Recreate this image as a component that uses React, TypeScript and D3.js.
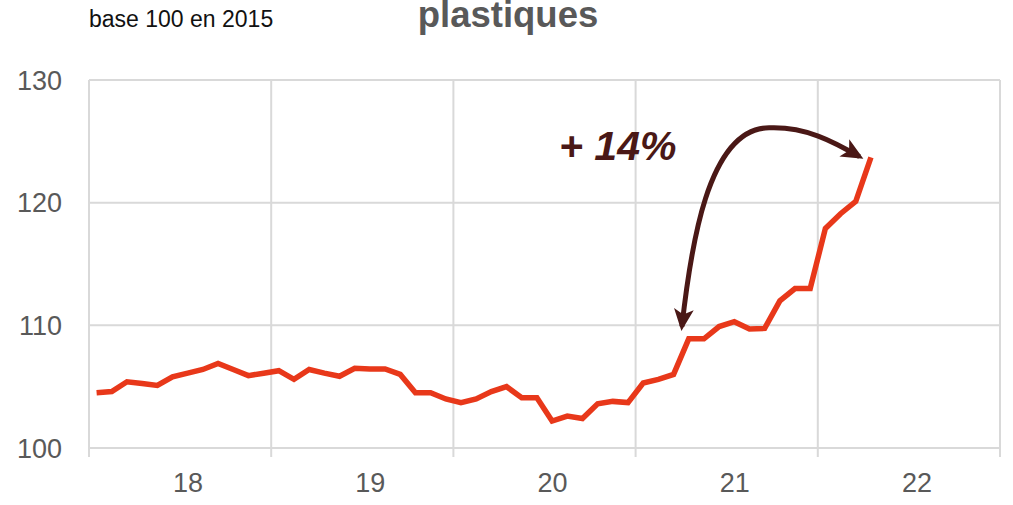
import React from "react";
import * as d3 from "d3";

// Monthly index, Jan 2018 -> Apr 2022, base 100 in 2015
const values: number[] = [
  104.5, 104.6, 105.4, 105.25, 105.1, 105.8, 106.1, 106.4, 106.9, 106.4, 105.9, 106.1,
  106.3, 105.6, 106.4, 106.1, 105.85, 106.5, 106.45, 106.45, 106.0, 104.5, 104.5, 104.0,
  103.7, 104.0, 104.6, 105.0, 104.1, 104.1, 102.2, 102.6, 102.4, 103.6, 103.8, 103.7,
  105.3, 105.6, 106.0, 108.9, 108.9, 109.9, 110.3, 109.7, 109.75, 112.0, 113.0, 113.0,
  117.9, 119.1, 120.1, 123.7,
];
const yearLabels: string[] = ["18", "19", "20", "21", "22"];
const yTicks: number[] = [100, 110, 120, 130];
const titleText = "plastiques";
const subtitleText = "base 100 en 2015";
const annotationText = "+ 14%";
// arrow annotation in data units: [monthIndex, value]
const arrowStart: [number, number] = [39.05, 109.9];
const arrowC1: [number, number] = [39.6, 116.0];
const arrowC2: [number, number] = [40.7, 126.2];
const arrowMid: [number, number] = [44.85, 126.1];
const arrowC3: [number, number] = [47.2, 126.2];
const arrowC4: [number, number] = [49.0, 125.0];
const arrowEnd: [number, number] = [50.75, 123.75];

export default function App() {
  const W = 1013;
  const H = 505;
  const left = 89;
  const right = 1000;
  const top = 80;
  const bottom = 448;
  const nMonths = yearLabels.length * 12;

  const x = d3.scaleLinear().domain([0, nMonths]).range([left, right]);
  const y = d3.scaleLinear().domain([100, 130]).range([bottom, top]);

  const line = d3
    .line<number>()
    .x((_, i) => x(i + 0.5))
    .y((d) => y(d));

  const P = (p: [number, number]) => `${x(p[0])},${y(p[1])}`;
  const arrowPath = `M${P(arrowStart)} C${P(arrowC1)} ${P(arrowC2)} ${P(arrowMid)} C${P(arrowC3)} ${P(arrowC4)} ${P(arrowEnd)}`;

  const gridColor = "#d9d9d9";
  const textGray = "#595959";
  const arrowColor = "#4a1816";
  const font = "'Liberation Sans', Arial, sans-serif";

  const vLines = d3.range(0, yearLabels.length + 1).map((k) => x(k * 12));

  return (
    <svg
      width={W}
      height={H}
      style={{ position: "absolute", left: 0, top: 0, background: "#fff" }}
      fontFamily={font}
    >
      <defs>
        <marker
          id="ah"
          viewBox="0 0 10 10"
          refX="8"
          refY="5"
          markerWidth="22"
          markerHeight="22"
          markerUnits="userSpaceOnUse"
          orient="auto-start-reverse"
        >
          <path d="M0,0.5 L10,5 L0,9.5 L2.5,5 Z" fill={arrowColor} />
        </marker>
      </defs>

      {/* horizontal gridlines */}
      {yTicks.map((t) => (
        <line key={"h" + t} x1={left} x2={right} y1={y(t)} y2={y(t)} stroke={gridColor} strokeWidth={2} />
      ))}
      {/* vertical gridlines with tick extension */}
      {vLines.map((vx, i) => (
        <line key={"v" + i} x1={vx} x2={vx} y1={top} y2={bottom + 9} stroke={gridColor} strokeWidth={2} />
      ))}

      {/* y labels */}
      {yTicks.map((t) => (
        <text
          key={"yl" + t}
          x={left - 27}
          y={y(t)}
          dy="0.36em"
          textAnchor="end"
          fontSize={27}
          fill={textGray}
        >
          {t}
        </text>
      ))}

      {/* x labels */}
      {yearLabels.map((lab, k) => (
        <text
          key={"xl" + lab}
          x={x(k * 12 + 6) + 8}
          y={492}
          textAnchor="middle"
          fontSize={27}
          fill={textGray}
        >
          {lab}
        </text>
      ))}

      {/* data line */}
      <path
        d={line(values) || ""}
        fill="none"
        stroke="#e8381a"
        strokeWidth={5.5}
        strokeLinejoin="miter"
        strokeLinecap="butt"
      />

      {/* arrow */}
      <path
        d={arrowPath}
        fill="none"
        stroke={arrowColor}
        strokeWidth={5}
        markerStart="url(#ah)"
        markerEnd="url(#ah)"
      />
      <text
        x={559}
        y={160}
        fontSize={41}
        fontWeight="bold"
        fontStyle="italic"
        fill={arrowColor}
      >
        {annotationText}
      </text>

      {/* titles */}
      <text x={89} y={27} fontSize={23} fill="#111">
        {subtitleText}
      </text>
      <text x={508} y={27} textAnchor="middle" fontSize={36.5} fontWeight="bold" fill={textGray}>
        {titleText}
      </text>
    </svg>
  );
}
